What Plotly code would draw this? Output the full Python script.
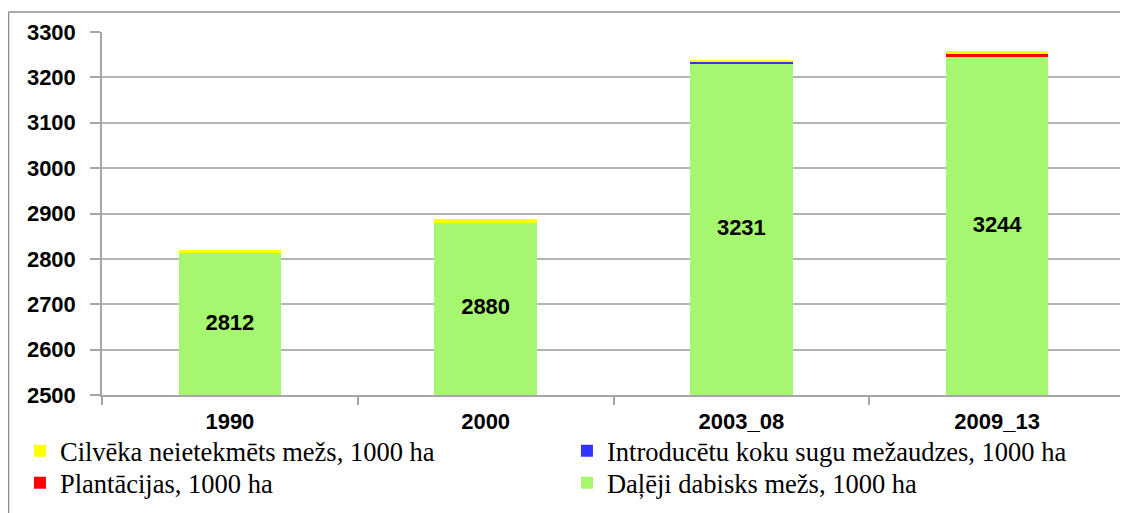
import plotly.graph_objects as go

categories = ["1990", "2000", "2003_08", "2009_13"]
dalji_dabisks = [2812, 2880, 3231, 3244]
plantacijas = [0, 0, 0, 8]
introduceto = [0, 0, 3, 0]
cilveka_neietekmets = [7, 7, 4, 7]

y_min, y_max = 2500, 3300

names = {
    "green": "Daļēji dabisks mežs, 1000 ha",
    "red": "Plantācijas, 1000 ha",
    "blue": "Introducētu koku sugu mežaudzes, 1000 ha",
    "yellow": "Cilvēka neietekmēts mežs, 1000 ha",
}

fig = go.Figure()
fig.add_trace(go.Bar(x=categories, y=dalji_dabisks, name=names["green"], legend="legend2",
                     marker=dict(color="#A6F76F", line=dict(width=0))))
fig.add_trace(go.Bar(x=categories, y=plantacijas, name=names["red"], legend="legend2",
                     marker=dict(color="#FF0000", line=dict(width=0))))
fig.add_trace(go.Bar(x=categories, y=introduceto, name=names["blue"], legend="legend",
                     marker=dict(color="#3333FF", line=dict(width=0))))
fig.add_trace(go.Bar(x=categories, y=cilveka_neietekmets, name=names["yellow"], legend="legend",
                     marker=dict(color="#FFFF00", line=dict(width=0))))

# data labels centred in the visible part of the green bars
fig.add_trace(go.Scatter(
    x=categories, y=[(y_min + v) / 2 for v in dalji_dabisks],
    mode="text", text=[str(v) for v in dalji_dabisks], textposition="middle center",
    textfont=dict(family="Liberation Sans", size=22, color="black", weight="bold"),
    showlegend=False, hoverinfo="skip"))

legend_common = dict(
    orientation="h", traceorder="reversed",
    x=-0.0802, xanchor="left", yanchor="top",
    entrywidth=502, entrywidthmode="pixels",
    font=dict(family="Liberation Serif", size=26.5, color="black"),
    bgcolor="rgba(0,0,0,0)",
)

fig.update_layout(
    barmode="stack",
    bargap=0.6,
    width=1120, height=505,
    margin=dict(l=94, r=3, t=24, b=118, autoexpand=False),
    plot_bgcolor="white", paper_bgcolor="white",
    showlegend=True,
    legend=dict(legend_common, y=-0.0882),
    legend2=dict(legend_common, y=-0.1763),
    shapes=[
        dict(type="line", xref="paper", yref="paper", x0=-0.0914, x1=1.1,
             y0=1.0551, y1=1.0551, line=dict(color="#8c8c8c", width=1.5)),
        dict(type="line", xref="paper", yref="paper", x0=-0.0914, x1=-0.0914,
             y0=1.0551, y1=-0.4, line=dict(color="#8c8c8c", width=1.5)),
    ],
)

fig.update_xaxes(
    type="category",
    showline=True, linecolor="#a6a6a6", linewidth=1.5,
    ticks="outside", tickson="boundaries", ticklen=8, tickcolor="#a6a6a6", tickwidth=1.5,
    tickfont=dict(family="Liberation Sans", size=22, color="black", weight="bold"),
    ticklabelstandoff=6,
    showgrid=False,
)
fig.update_yaxes(
    range=[y_min, y_max], dtick=100, tick0=2500,
    showline=True, linecolor="#a6a6a6", linewidth=1.5,
    ticks="outside", ticklen=10, tickcolor="#a6a6a6", tickwidth=1.5,
    showgrid=True, gridcolor="#b4b4b4", gridwidth=1.5,
    tickfont=dict(family="Liberation Sans", size=22, color="black", weight="bold"),
    ticklabelstandoff=10,
    zeroline=False,
)

fig.write_html("out.html")
